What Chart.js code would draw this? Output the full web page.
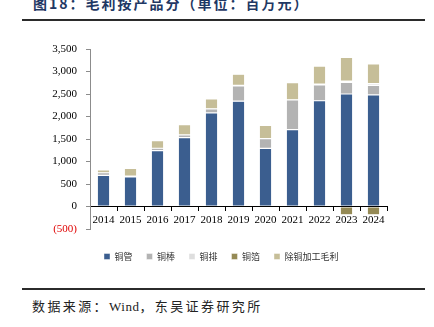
<!DOCTYPE html>
<html>
<head>
<meta charset="utf-8">
<script src="https://cdn.jsdelivr.net/npm/chart.js@4.4.1/dist/chart.umd.min.js"></script>
<style>
    body { margin: 0; width: 434px; height: 327px; background: #fff; position: relative; overflow: hidden; }
    #title {
        position: absolute; left: 33px; top: -5px;
        font: bold 14px "Noto Sans CJK SC", sans-serif; letter-spacing: 2px;
        color: #1f3864; line-height: 16px; white-space: nowrap;
    }
    .rule { position: absolute; left: 22px; width: 403px; height: 2px; background: #2b2b2b; }
    #source {
        position: absolute; left: 32px; top: 296px;
        font: 13px "Liberation Serif", "Noto Sans CJK SC", serif; letter-spacing: 2.4px;
        color: #222; white-space: nowrap;
    }
    #source span { letter-spacing: 0.5px; }
    #wrap { position: absolute; left: 0; top: 0; width: 434px; height: 280px; }
</style>
</head>
<body>
<div id="title">图18：毛利按产品分（单位：百万元）</div>
<div class="rule" style="top:19px"></div>
<div id="wrap"><canvas id="barChart"></canvas></div>
<div class="rule" style="top:288px"></div>
<div id="source">数据来源：<span>Wind</span>，东吴证券研究所</div>

<script>
"use strict"

//年份
const years = ["2014", "2015", "2016", "2017", "2018", "2019", "2020", "2021", "2022", "2023", "2024"];

//毛利（百万元），null = 当年没有该项
const copperTube = [690, 660, 1240, 1530, 2080, 2340, 1290, 1710, 2350, 2500, 2480];
const copperRod = [60, 15, 55, 60, 90, 340, 220, 660, 350, 260, 210];
const copperBar = [null, null, null, null, null, 15, null, null, 20, 25, 40];
const copperFoil = [null, null, null, null, null, null, null, null, null, -185, -185];
const otherProfit = [65, 170, 170, 230, 220, 245, 295, 385, 400, 530, 440];

//y轴刻度
const yMin = -500;
const yMax = 3500;
const yStep = 500;

const chartEl = document.getElementById("barChart");

function makeSet(label, data, color) {
    return {
        label: label,
        data: data,
        backgroundColor: color,
        borderColor: "rgba(255,255,255,0.7)",
        borderWidth: 0.6,
        borderSkipped: false
    };
}

new Chart(chartEl, {
    type: "bar",
    data: {
        labels: years,
        datasets: [
            makeSet("铜管", copperTube, "#3b5e8f"),
            makeSet("铜棒", copperRod, "#b3b3b3"),
            makeSet("铜排", copperBar, "#dedede"),
            makeSet("铜箔", copperFoil, "#958a55"),
            makeSet("除铜加工毛利", otherProfit, "#c6be98")
        ]
    },
    options: {
        responsive: true,
        maintainAspectRatio: false,
        animation: false,
        datasets: {
            bar: { barPercentage: 0.46, categoryPercentage: 1 }
        },
        layout: {
            padding: { left: 0, right: 47, top: 49, bottom: 9 }
        },
        plugins: {
            tooltip: { enabled: false },
            legend: {
                position: "bottom",
                fullSize: false,
                align: "start",
                //空标题只用来把图例往下推一点
                title: { display: true, text: "", padding: 1.5, font: { size: 5 } },
                labels: {
                    boxWidth: 6,
                    boxHeight: 6,
                    padding: 14,
                    color: "#333",
                    font: { family: "'Noto Sans CJK SC'", size: 9 }
                }
            }
        },
        scales: {
            x: {
                stacked: true,
                position: { y: 0 },
                border: { color: "#000", width: 1 },
                grid: { drawOnChartArea: false, drawTicks: true, tickLength: 4, color: "#000" },
                ticks: {
                    color: "#000",
                    padding: 3,
                    maxRotation: 0,
                    autoSkip: false,
                    font: { family: "'Liberation Serif'", size: 11 }
                }
            },
            y: {
                stacked: true,
                min: yMin,
                max: yMax,
                afterFit: (scale) => { scale.width = 90; },
                border: { color: "#8c8c8c", width: 1 },
                grid: { drawOnChartArea: false, drawTicks: true, tickLength: 4, color: "#8c8c8c" },
                ticks: {
                    stepSize: yStep,
                    padding: 9,
                    color: (ctx) => ctx.tick.value < 0 ? "#e00000" : "#000",
                    font: { family: "'Liberation Serif'", size: 11 },
                    callback: (value) => value < 0
                        ? "(" + Math.abs(value).toLocaleString("en-US") + ")"
                        : value.toLocaleString("en-US")
                }
            }
        }
    }
});
</script>
</body>
</html>
